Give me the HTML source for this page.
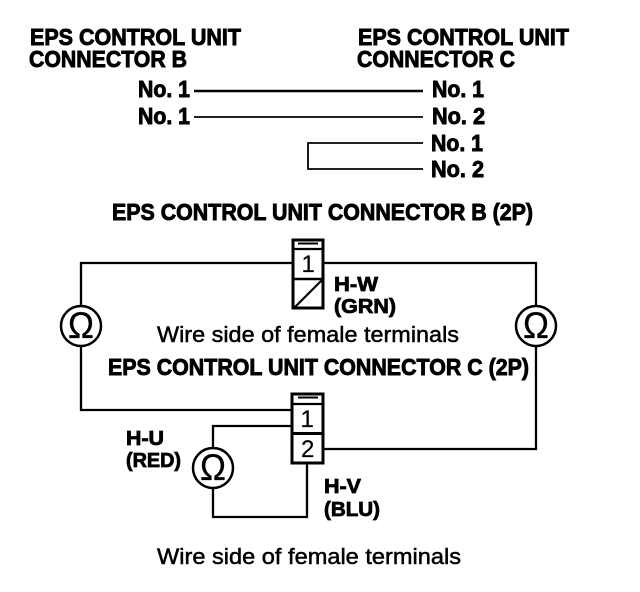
<!DOCTYPE html>
<html>
<head>
<meta charset="utf-8">
<style>
html,body{margin:0;padding:0;background:#fff;}
svg{display:block;}
text{font-family:"Liberation Sans",sans-serif;fill:#000;}
.b{font-weight:bold;font-size:23px;stroke:#000;stroke-width:.9px;}
.n{font-weight:bold;font-size:23px;stroke:#000;stroke-width:.9px;}
.s{font-weight:bold;font-size:20.500px;stroke:#000;stroke-width:.8px;}
.r{font-size:22px;stroke:#000;stroke-width:.5px;}
.d{font-size:24px;stroke:#000;stroke-width:.2px;}
.o{font-size:37px;stroke:#000;stroke-width:.3px;}
.l{fill:none;stroke:#000;stroke-width:2.3;}
.c{fill:#fff;stroke:#000;stroke-width:2.5;}
</style>
</head>
<body>
<svg width="640" height="592" viewBox="0 0 640 592" xmlns="http://www.w3.org/2000/svg">
<rect width="640" height="592" fill="#fff"/>

<text class="b" x="30" y="45" textLength="211" lengthAdjust="spacingAndGlyphs">EPS CONTROL UNIT</text>
<text class="b" x="29" y="67" textLength="158" lengthAdjust="spacingAndGlyphs">CONNECTOR B</text>
<text class="b" x="358" y="45" textLength="211" lengthAdjust="spacingAndGlyphs">EPS CONTROL UNIT</text>
<text class="b" x="357" y="67" textLength="158" lengthAdjust="spacingAndGlyphs">CONNECTOR C</text>

<text class="n" x="138" y="97" textLength="52" lengthAdjust="spacingAndGlyphs">No. 1</text>
<text class="n" x="138" y="124" textLength="52" lengthAdjust="spacingAndGlyphs">No. 1</text>
<text class="n" x="432" y="97" textLength="52" lengthAdjust="spacingAndGlyphs">No. 1</text>
<text class="n" x="432" y="124" textLength="53" lengthAdjust="spacingAndGlyphs">No. 2</text>
<text class="n" x="431" y="151" textLength="52" lengthAdjust="spacingAndGlyphs">No. 1</text>
<text class="n" x="431" y="177" textLength="53" lengthAdjust="spacingAndGlyphs">No. 2</text>

<path class="l" d="M194 91H423" style="stroke-width:2.500"/>
<path class="l" d="M194 117H423" style="stroke-width:1.800"/>
<path class="l" d="M423 143H308V169H423" style="stroke-width:1.800"/>

<text class="b" x="112" y="220" textLength="421" lengthAdjust="spacingAndGlyphs">EPS CONTROL UNIT CONNECTOR B (2P)</text>

<!-- upper circuit -->
<path class="l" d="M292 263H81V306M81 346V410H292"/>
<path class="l" d="M324 263H536V306M536 346V449H324"/>
<circle class="c" cx="81" cy="326" r="20"/>
<circle class="c" cx="536" cy="326" r="20"/>
<text class="o" x="68" y="338" textLength="26" lengthAdjust="spacingAndGlyphs">Ω</text>
<text class="o" x="523" y="338" textLength="26" lengthAdjust="spacingAndGlyphs">Ω</text>

<!-- connector B -->
<rect x="293" y="240" width="30" height="68" fill="#fff" stroke="#000" stroke-width="3"/>
<path d="M293 249H323" stroke="#000" stroke-width="2.200"/>
<path d="M298 243.500H318" stroke="#000" stroke-width="2"/>
<path d="M293 279H323" stroke="#000" stroke-width="2.500"/>
<path d="M294 308L322 280" stroke="#000" stroke-width="2.200"/>
<text class="d" x="301.500" y="272">1</text>

<text class="s" x="334" y="291" textLength="44" lengthAdjust="spacingAndGlyphs">H-W</text>
<text class="s" x="334" y="313" textLength="62" lengthAdjust="spacingAndGlyphs">(GRN)</text>

<text class="r" x="157" y="342" textLength="302" lengthAdjust="spacingAndGlyphs">Wire side of female terminals</text>
<text class="b" x="108" y="375" textLength="421" lengthAdjust="spacingAndGlyphs">EPS CONTROL UNIT CONNECTOR C (2P)</text>

<!-- lower loop -->
<path class="l" d="M292 426H213V448M213 488V517H307V464"/>
<circle class="c" cx="213" cy="468" r="20"/>
<text class="o" x="200" y="480" textLength="26" lengthAdjust="spacingAndGlyphs">Ω</text>

<!-- connector C -->
<rect x="292" y="394" width="31" height="69" fill="#fff" stroke="#000" stroke-width="3"/>
<path d="M292 404H323" stroke="#000" stroke-width="2.200"/>
<path d="M298 397.500H318" stroke="#000" stroke-width="2"/>
<path d="M292 433.500H323" stroke="#000" stroke-width="3"/>
<text class="d" x="300.500" y="427">1</text>
<text class="d" x="301" y="457">2</text>

<text class="s" x="126" y="445" textLength="38" lengthAdjust="spacingAndGlyphs">H-U</text>
<text class="s" x="126" y="467" textLength="55" lengthAdjust="spacingAndGlyphs">(RED)</text>
<text class="s" x="324" y="493" textLength="37" lengthAdjust="spacingAndGlyphs">H-V</text>
<text class="s" x="324" y="516" textLength="56" lengthAdjust="spacingAndGlyphs">(BLU)</text>

<text class="r" x="157" y="564" textLength="304" lengthAdjust="spacingAndGlyphs">Wire side of female terminals</text>
</svg>
</body>
</html>
